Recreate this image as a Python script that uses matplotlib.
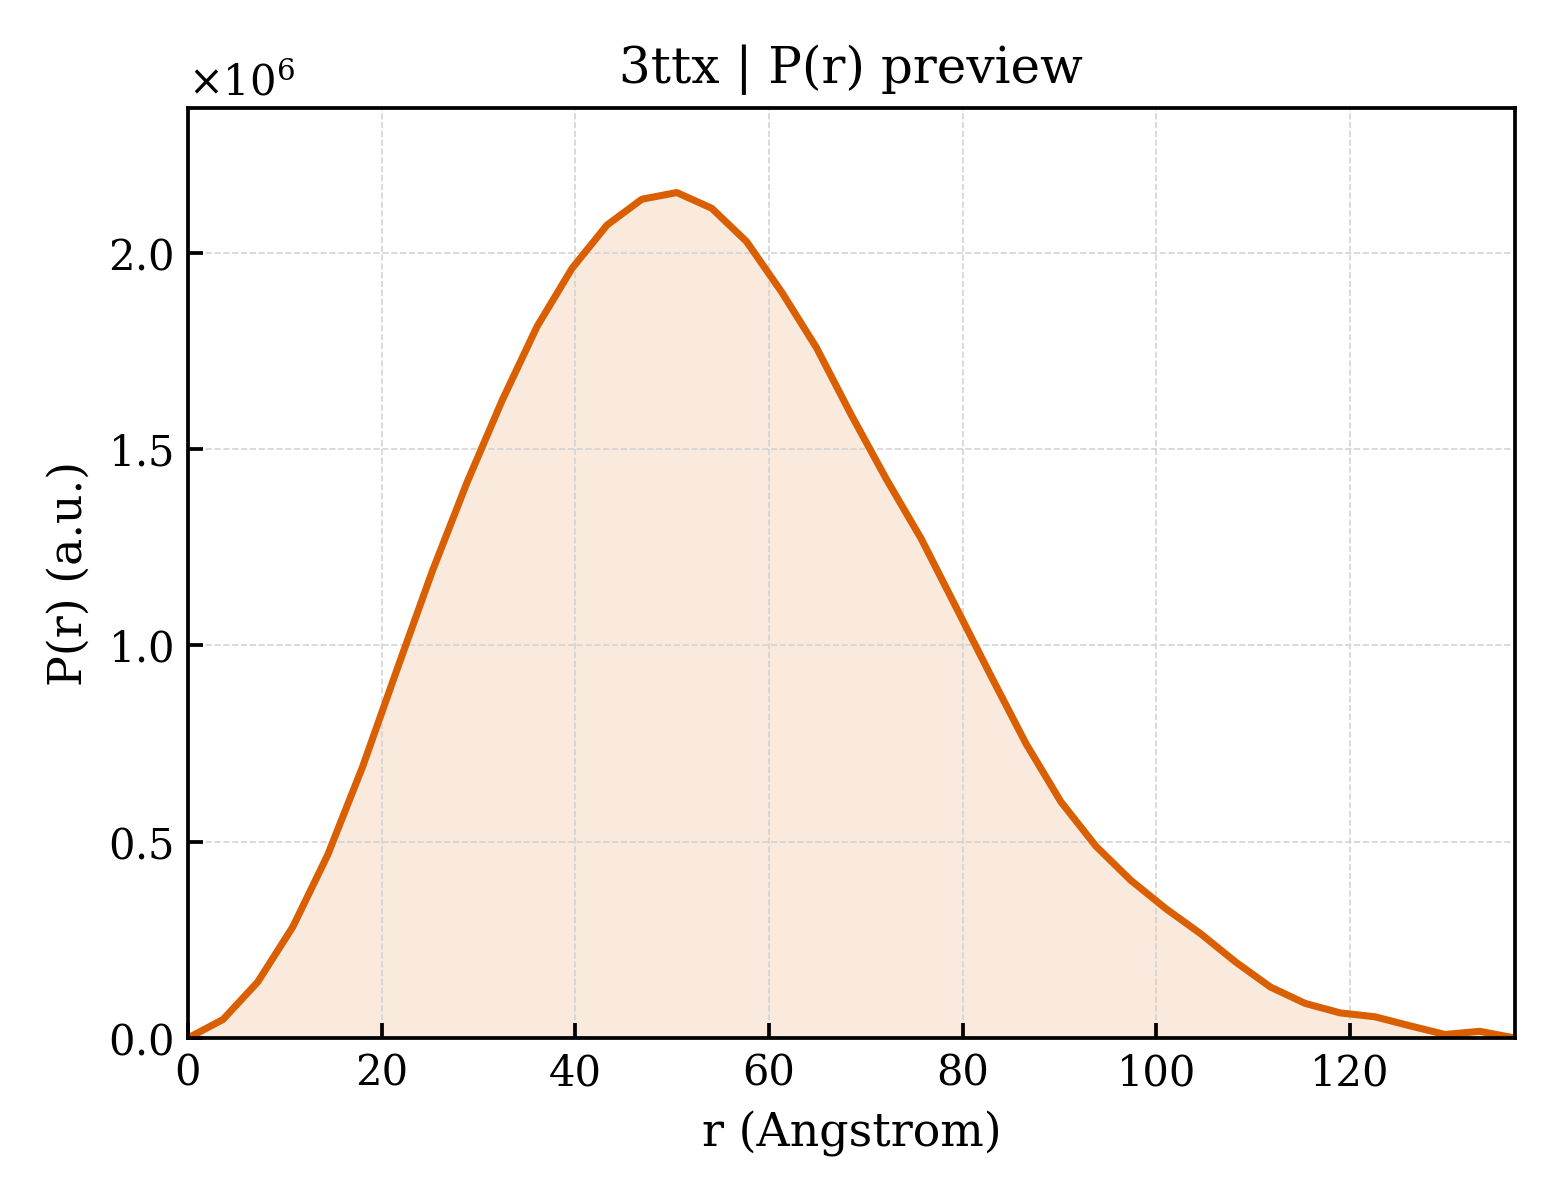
import matplotlib
matplotlib.use('Agg')
import matplotlib.pyplot as plt
from matplotlib.ticker import ScalarFormatter

# Datos
r_angstrom = [0.0, 3.61, 7.21, 10.82, 14.42, 18.03, 21.63, 25.24, 28.84, 32.45,
              36.05, 39.66, 43.26, 46.87, 50.47, 54.08, 57.68, 61.29, 64.89, 68.50,
              72.11, 75.71, 79.32, 82.92, 86.53, 90.13, 93.74, 97.34, 100.95, 104.55,
              108.16, 111.76, 115.37, 118.97, 122.58, 126.18, 129.79, 133.39, 137.0]
pr_millions = [0.0, 0.047, 0.143, 0.283, 0.466, 0.691, 0.942, 1.190, 1.417, 1.625,
               1.813, 1.961, 2.071, 2.137, 2.154, 2.114, 2.029, 1.901, 1.759, 1.587,
               1.424, 1.272, 1.097, 0.922, 0.750, 0.602, 0.489, 0.402, 0.330, 0.266,
               0.194, 0.130, 0.088, 0.064, 0.054, 0.031, 0.009, 0.017, 0.0]
pr = [v * 1e6 for v in pr_millions]

color = '#d95f02'

plt.rcParams['font.family'] = 'DejaVu Serif'
plt.rcParams['mathtext.fontset'] = 'dejavuserif'

fig, ax = plt.subplots(figsize=(5.2, 4), dpi=300)
fig.subplots_adjust(left=0.1205, right=0.971, bottom=0.135, top=0.91)

ax.fill_between(r_angstrom, pr, 0, color=color, alpha=0.13, linewidth=0)
ax.plot(r_angstrom, pr, color=color, linewidth=1.7)

ax.set_xlim(0, max(r_angstrom))
ax.set_ylim(0, max(pr) * 1.1)

fmt = ScalarFormatter(useMathText=True)
fmt.set_powerlimits((0, 0))
ax.yaxis.set_major_formatter(fmt)
ax.yaxis.get_offset_text().set_fontsize(10)

ax.grid(True, linestyle='--', linewidth=0.4, color='#d0d0d0', alpha=0.9)
ax.tick_params(direction='in', length=3.5, width=0.9, labelsize=10)
for s in ax.spines.values():
    s.set_linewidth(0.9)

ax.set_xlabel('r (Angstrom)', fontsize=11)
ax.set_ylabel('P(r) (a.u.)', fontsize=11)
ax.set_title('3ttx | P(r) preview', fontsize=12)

fig.savefig('out.png', dpi=300)
